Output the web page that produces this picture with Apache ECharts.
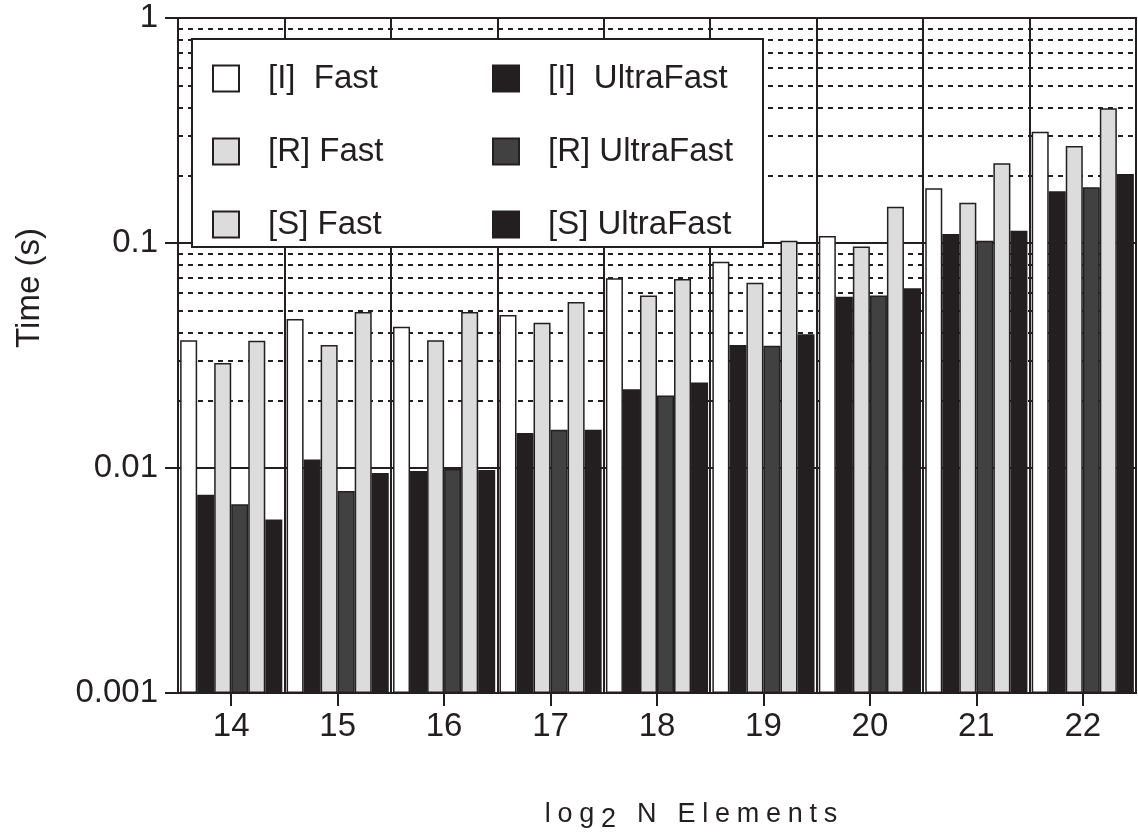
<!DOCTYPE html>
<html>
<head>
<meta charset="utf-8">
<script src="https://cdn.jsdelivr.net/npm/echarts@6/dist/echarts.min.js"></script>
<style>
html,body{margin:0;padding:0;background:#fff;}
#chart{width:1138px;height:835px;}
</style>
</head>
<body>
<div id="chart"></div>
<script>
// ---- data ----
var categories = ['14', '15', '16', '17', '18', '19', '20', '21', '22'];
var iFast  = [0.0370, 0.0460, 0.0424, 0.0479, 0.0697, 0.0826, 0.1074, 0.1750, 0.3126];
var iUltra = [0.0076, 0.0109, 0.0097, 0.0143, 0.0224, 0.0352, 0.0577, 0.1096, 0.1700];
var rFast  = [0.0293, 0.0352, 0.0370, 0.0442, 0.0584, 0.0666, 0.0964, 0.1510, 0.2700];
var rUltra = [0.0069, 0.0079, 0.0099, 0.0148, 0.0210, 0.0349, 0.0585, 0.1024, 0.1770];
var sFast  = [0.0368, 0.0493, 0.0493, 0.0547, 0.0692, 0.1024, 0.1450, 0.2260, 0.3970];
var sUltra = [0.0059, 0.0095, 0.0098, 0.0148, 0.0240, 0.0393, 0.0629, 0.1135, 0.2027];
var yTickLabels = ['0.001', '0.01', '0.1', '1'];
var minorGrid = [0.002, 0.003, 0.004, 0.005, 0.006, 0.007, 0.008, 0.009,
                 0.02, 0.03, 0.04, 0.05, 0.06, 0.07, 0.08, 0.09,
                 0.2, 0.3, 0.4, 0.5, 0.6, 0.7, 0.8, 0.9];
var seriesNames = ['[I]  Fast', '[I]  UltraFast', '[R] Fast', '[R] UltraFast', '[S] Fast', '[S] UltraFast'];

var INK = '#231f20';
var FONT = '"Liberation Sans", Arial, Helvetica, sans-serif';
var fills = ['#ffffff', '#231f20', '#dcdcdc', '#414141', '#dcdcdc', '#231f20'];
var values = [iFast, iUltra, rFast, rUltra, sFast, sUltra];

var series = values.map(function (arr, i) {
  var s = {
    name: seriesNames[i],
    type: 'bar',
    data: arr,
    barGap: '0%',
    barCategoryGap: '4%',
    z: 2,
    itemStyle: { color: fills[i], borderColor: INK, borderWidth: 1.5 }
  };
  if (i === 0) {
    s.markLine = {
      silent: true,
      z: 1,
      symbol: ['none', 'none'],
      label: { show: false },
      lineStyle: { type: [5, 5], color: INK, width: 2 },
      data: minorGrid.map(function (v) { return { yAxis: v }; })
    };
  }
  return s;
});

var legendCommon = {
  orient: 'vertical',
  top: 62,
  padding: 0,
  itemWidth: 26,
  itemHeight: 26,
  itemGap: 40,
  icon: 'rect',
  z: 10,
  selectedMode: false,
  textStyle: { fontFamily: FONT, fontSize: 33, color: INK, lineHeight: 26, padding: [0, 0, 0, 24] }
};

var SP = '\u2005';
var chart = echarts.init(document.getElementById('chart'), null, { renderer: 'canvas' });
chart.setOption({
  animation: false,
  backgroundColor: '#ffffff',
  grid: { left: 178, right: 2, top: 18, bottom: 142, show: true, borderColor: INK, borderWidth: 2, backgroundColor: 'transparent' },
  legend: [
    Object.assign({}, legendCommon, { left: 212, data: [seriesNames[0], seriesNames[2], seriesNames[4]] }),
    Object.assign({}, legendCommon, { left: 492, data: [seriesNames[1], seriesNames[3], seriesNames[5]] })
  ],
  xAxis: {
    type: 'category',
    data: categories,
    axisLine: { lineStyle: { color: INK, width: 2 } },
    axisTick: { show: true, alignWithLabel: true, length: 13, lineStyle: { color: INK, width: 2 } },
    axisLabel: { fontFamily: FONT, fontSize: 33, color: INK, margin: 17 },
    splitLine: { show: true, interval: 0, lineStyle: { color: INK, width: 2 } }
  },
  yAxis: {
    type: 'log',
    logBase: 10,
    min: 0.001,
    max: 1,
    startValue: 0.001,
    axisLine: { show: true, lineStyle: { color: INK, width: 2 } },
    axisTick: { show: true, length: 13, lineStyle: { color: INK, width: 2 } },
    axisLabel: {
      fontFamily: FONT, fontSize: 33, color: INK, margin: 20,
      formatter: function (v) { return yTickLabels[Math.round(Math.log10(v)) + 3]; }
    },
    splitLine: { show: true, lineStyle: { color: INK, width: 2 } }
  },
  graphic: [
    {
      type: 'rect', z: 5,
      shape: { x: 192, y: 39, width: 571, height: 208 },
      style: { fill: '#ffffff', stroke: INK, lineWidth: 2 }
    },
    {
      type: 'text', z: 5,
      x: 30, y: 288, rotation: Math.PI / 2,
      style: { text: 'Time (s)', font: '33px ' + FONT, fill: INK, textAlign: 'center', textVerticalAlign: 'middle' }
    },
    {
      type: 'text', z: 5,
      x: 691, y: 815,
      style: {
        text: '{a|l' + SP + 'o' + SP + 'g' + SP + '}{b|2}{a|' + SP + ' ' + SP + 'N' + SP + ' ' + SP +
              'E' + SP + 'l' + SP + 'e' + SP + 'm' + SP + 'e' + SP + 'n' + SP + 't' + SP + 's}',
        fill: INK, textAlign: 'center', textVerticalAlign: 'middle',
        rich: {
          a: { fontFamily: FONT, fontSize: 27, fill: INK },
          b: { fontFamily: FONT, fontSize: 27, fill: INK, padding: [10, 0, 0, 0] }
        }
      }
    }
  ],
  series: series
});
</script>
</body>
</html>
